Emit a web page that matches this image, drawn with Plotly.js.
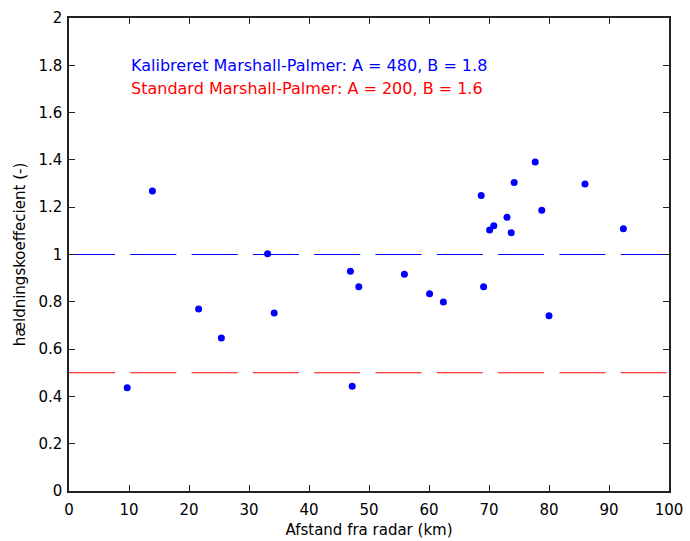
<!DOCTYPE html>
<html>
<head>
<meta charset="utf-8">
<script src="https://cdn.plot.ly/plotly-3.0.1.min.js"></script>
<style>
  html, body { margin: 0; padding: 0; background: #fff; }
  #chart { width: 690px; height: 541px; }
</style>
</head>
<body>
<div id="chart"></div>
<script>
// Measured points: distance from radar (km) and slope coefficient
const distanceKm = [9.7, 13.9, 21.6, 25.4, 33.1, 34.2, 46.9, 48.3, 47.2, 55.9, 60.1, 62.4,
                    68.7, 69.1, 70.1, 70.8, 73.0, 73.7, 74.2, 77.7, 78.8, 80.0, 86.0, 92.4];
const slopeCoef = [0.437, 1.268, 0.770, 0.647, 1.003, 0.753, 0.929, 0.864, 0.443, 0.916, 0.834, 0.799,
                   1.250, 0.864, 1.104, 1.122, 1.157, 1.092, 1.304, 1.391, 1.187, 0.741, 1.298, 1.109];

// Reference lines
const refX = [0, 100];
const calibratedY = [1, 1];
const standardY = [0.5, 0.5];

// Texts
const calibratedLabel = "Kalibreret Marshall-Palmer: A = 480, B = 1.8";
const standardLabel = "Standard Marshall-Palmer: A = 200, B = 1.6";
const labelX = 10;
const calibratedLabelY = 1.8;
const standardLabelY = 1.7;
const xTitle = "Afstand fra radar (km)";
const yTitle = "hældningskoeffecient (-)";

const font = "DejaVu Sans, Arial, sans-serif";
const dashPattern = "46px,15.3px";

const traces = [
  { x: refX, y: calibratedY, mode: "lines", line: { color: "#0000ff", width: 1, dash: dashPattern }, hoverinfo: "skip" },
  { x: refX, y: standardY, mode: "lines", line: { color: "#ff0000", width: 1, dash: dashPattern }, hoverinfo: "skip" },
  { x: distanceKm, y: slopeCoef, mode: "markers", marker: { color: "#0000ff", size: 7 } }
];

const axisCommon = {
  showgrid: false,
  zeroline: false,
  showline: true,
  linecolor: "#222",
  linewidth: 1.6,
  mirror: "ticks",
  ticks: "inside",
  ticklen: 6,
  tickwidth: 1,
  tickcolor: "#222",
  tickfont: { family: font, size: 15, color: "#000" }
};

const layout = {
  width: 690,
  height: 541,
  margin: { l: 69, r: 21, t: 18, b: 50 },
  paper_bgcolor: "#fff",
  plot_bgcolor: "#fff",
  showlegend: false,
  font: { family: font, size: 15, color: "#000" },
  xaxis: Object.assign({}, axisCommon, {
    range: [0, 100],
    tick0: 0, dtick: 10,
    ticklabelstandoff: 4,
    title: { text: xTitle, font: { family: font, size: 15, color: "#000" }, standoff: 7 }
  }),
  yaxis: Object.assign({}, axisCommon, {
    range: [0, 2],
    tick0: 0, dtick: 0.2,
    ticklabelstandoff: 2,
    title: { text: yTitle, font: { family: font, size: 15, color: "#000" }, standoff: 9 }
  }),
  annotations: [
    { x: labelX, y: calibratedLabelY, xref: "x", yref: "y", text: calibratedLabel, showarrow: false,
      xanchor: "left", yanchor: "middle", font: { family: font, size: 16, color: "#0000ff" } },
    { x: labelX, y: standardLabelY, xref: "x", yref: "y", text: standardLabel, showarrow: false,
      xanchor: "left", yanchor: "middle", font: { family: font, size: 16, color: "#ff0000" } }
  ]
};

Plotly.newPlot("chart", traces, layout, { staticPlot: true, displayModeBar: false });
</script>
</body>
</html>
